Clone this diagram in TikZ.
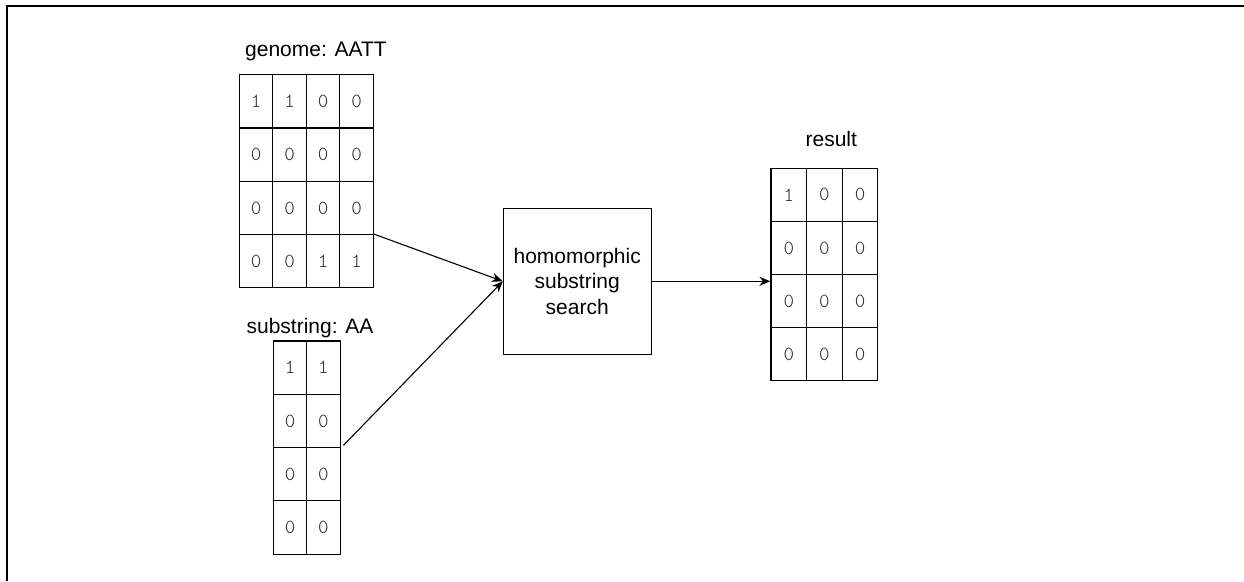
\documentclass[tikz,border=0pt]{standalone}
\usepackage{fontspec}
\setmainfont{Liberation Sans}
\newfontfamily\cellfont{Latin Modern Mono Light}
\usetikzlibrary{arrows.meta,positioning}

\begin{document}
\begin{tikzpicture}
	[
		x=1pt, y=-1pt,
		cellnode/.style={rectangle, draw=black, line width=1.1pt, inner sep=0pt, minimum width=33.5pt, minimum height=53.3pt, font=\cellfont\fontsize{20}{20}\selectfont, text=black!85},
		labelnode/.style={anchor=base, inner sep=0pt, font=\fontsize{21}{25}\selectfont},
		processnode/.style={rectangle, draw=black, line width=1.1pt, minimum width=147.7pt, minimum height=146pt, align=center, font=\fontsize{21}{25.5}\selectfont},
		flow/.style={-{Stealth[length=11pt,width=9pt]}, line width=1.1pt},
	]

	\useasboundingbox (0,0) rectangle (1244,581);
	\draw[line width=2.2pt] (1244,6) -- (7,6) -- (7,581);

	% genome grid
	\foreach \row [count=\r] in {{1,1,0,0},{0,0,0,0},{0,0,0,0},{0,0,1,1}}
		\foreach \v [count=\c] in \row
			\node[cellnode] (g-\r-\c) at ({239.3+33.5*(\c-0.5)},{74.7+53.3*(\r-0.5)}) {\v};
	\node[labelnode] (genomelabel) at (316,56) {genome: AATT};

	% substring grid
	\foreach \row [count=\r] in {{1,1},{0,0},{0,0},{0,0}}
		\foreach \v [count=\c] in \row
			\node[cellnode] (s-\r-\c) at ({273.3+33.4*(\c-0.5)},{341+53.3*(\r-0.5)}) {\v};
	\node[labelnode] (substringlabel) at (310,333.3) {substring: AA};

	% result grid
	\foreach \row [count=\r] in {{1,0,0},{0,0,0},{0,0,0},{0,0,0}}
		\foreach \v [count=\c] in \row
			\node[cellnode, minimum width=35.6pt, minimum height=53.1pt] (r-\r-\c) at ({771+35.6*(\c-0.5)},{168.3+53.1*(\r-0.5)}) {\v};
	\node[labelnode] (resultlabel) at (831.3,146.7) {result};

	\node[processnode] (search) at (577.2,281.3) {homomorphic\\substring\\search};

	\draw[flow] (g-4-4.north east) -- (search.west);
	\draw[flow, shorten <=4pt] (s-2-2.south east) -- (search.west);
	\draw[flow] (search.east) -- (search.east -| r-3-1.west);

\end{tikzpicture}
\end{document}
